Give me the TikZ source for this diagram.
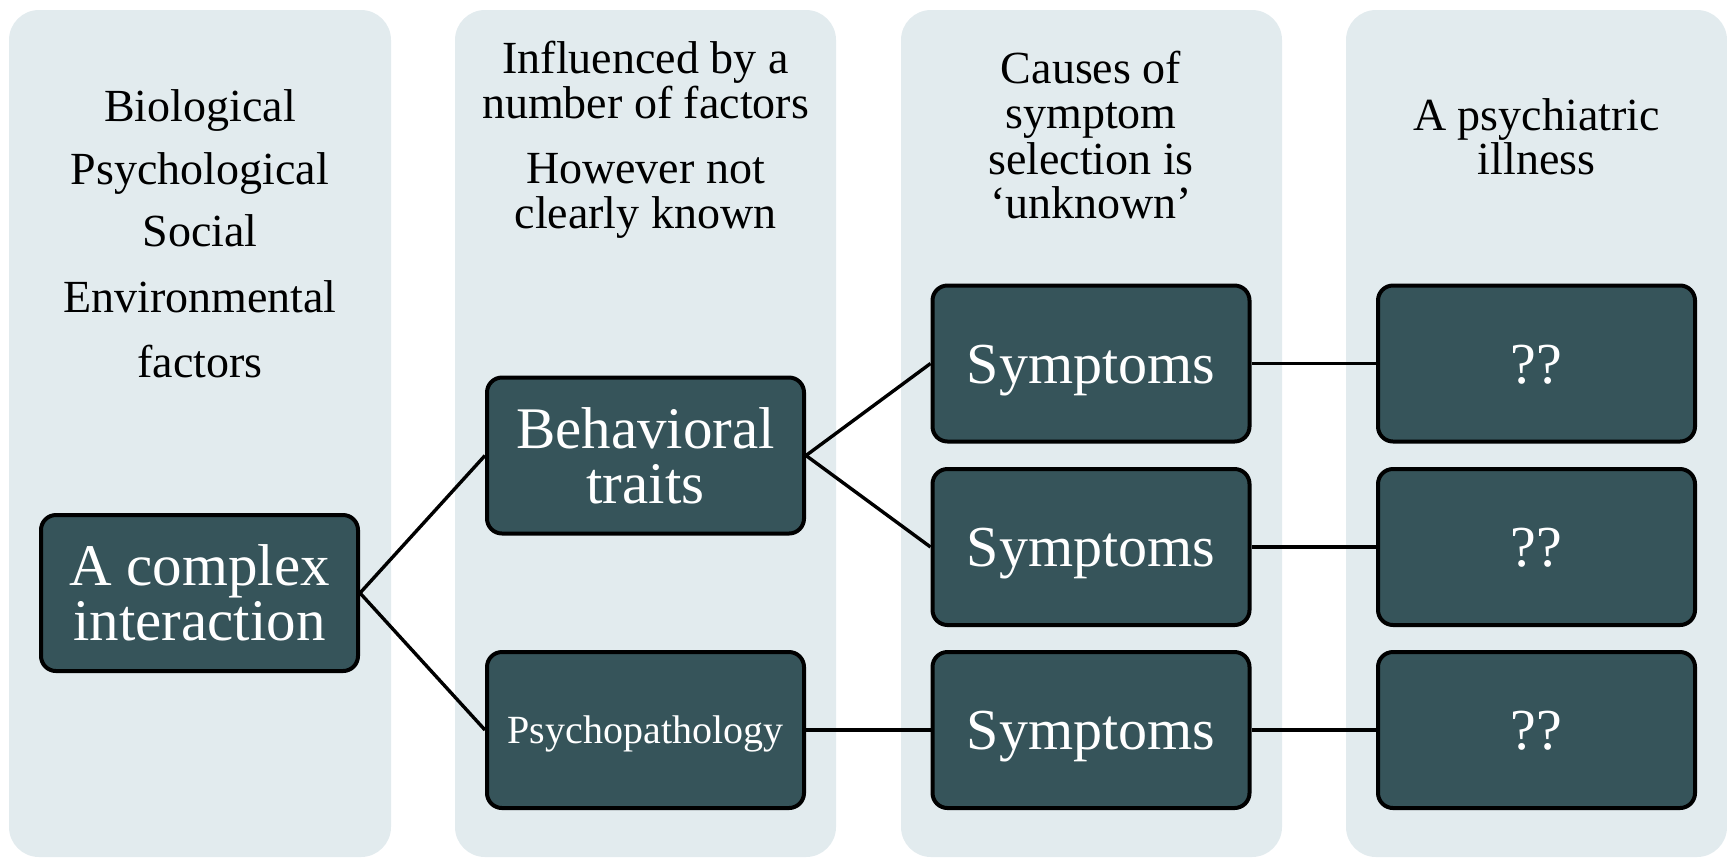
\documentclass[tikz,border=0pt]{standalone}
\usepackage{fontspec}
\setmainfont{Liberation Serif}
\definecolor{panel}{RGB}{226,235,238}
\definecolor{boxfill}{RGB}{54,84,90}
\begin{document}
\begin{tikzpicture}[x=0.5pt,y=-0.5pt,
  panelbox/.style={fill=panel, rounded corners=15pt},
  darkbox/.style={draw=black, line width=2pt, fill=boxfill, rounded corners=7.5pt,
    minimum width=158.5pt, minimum height=78pt, inner sep=0pt, text=white, align=center},
  bigtxt/.style={font=\fontsize{29.5}{27.5}\selectfont},
  onetxt/.style={font=\fontsize{29}{29}\selectfont, text height=20pt, text depth=0.5pt},
  smalltxt/.style={font=\fontsize{20}{20}\selectfont, text height=13.5pt, text depth=0.5pt},
  head/.style={anchor=base, font=\fontsize{23}{23}\selectfont, inner sep=0pt},
  link/.style={line width=1.7pt}]
\useasboundingbox (0,0) rectangle (1727,858);
% panels
\path[panelbox] (9,10) rectangle (391,857);
\path[panelbox] (455,10) rectangle (836,857);
\path[panelbox] (901,10) rectangle (1282,857);
\path[panelbox] (1346,10) rectangle (1727,857);
% headers
\node[head] (h1a) at (200,121) {Biological};
\node[head] (h1b) at (200,184) {Psychological};
\node[head] (h1c) at (200,246) {Social};
\node[head] (h1d) at (200,312) {Environmental};
\node[head] (h1e) at (200,377) {factors};
\node[head] (h2a) at (645.5,73) {Influenced by a};
\node[head] (h2b) at (645.5,118) {number of factors};
\node[head] (h2c) at (645.5,183) {However not};
\node[head] (h2d) at (645.5,228) {clearly known};
\node[head] (h3a) at (1091,83) {Causes of};
\node[head] (h3b) at (1091,128) {symptom};
\node[head] (h3c) at (1091,174) {selection is};
\node[head] (h3d) at (1091,218) {‘unknown’};
\node[head] (h4a) at (1536.5,130) {A psychiatric};
\node[head] (h4b) at (1536.5,174) {illness};
% boxes
\node[darkbox, bigtxt] (cx) at (199.5,593) {A complex\\interaction};
\node[darkbox, bigtxt] (bt) at (645.5,455.5) {Behavioral\\traits};
\node[darkbox, smalltxt] (pp) at (645.5,730) {Psychopathology};
\node[darkbox, onetxt] (s1) at (1091,363.5) {Symptoms};
\node[darkbox, onetxt] (s2) at (1091,547) {Symptoms};
\node[darkbox, onetxt] (s3) at (1091,730) {Symptoms};
\node[darkbox, onetxt] (q1) at (1536.5,363.5) {??};
\node[darkbox, onetxt] (q2) at (1536.5,547) {??};
\node[darkbox, onetxt] (q3) at (1536.5,730) {??};
% connectors
\draw[link] (cx.east) -- (bt.west);
\draw[link] (cx.east) -- (pp.west);
\draw[link] (bt.east) -- (s1.west);
\draw[link] (bt.east) -- (s2.west);
\draw[link] (pp.east) -- (s3.west);
\draw[link] (s1.east) -- (q1.west);
\draw[link] (s2.east) -- (q2.west);
\draw[link] (s3.east) -- (q3.west);
\end{tikzpicture}
\end{document}
